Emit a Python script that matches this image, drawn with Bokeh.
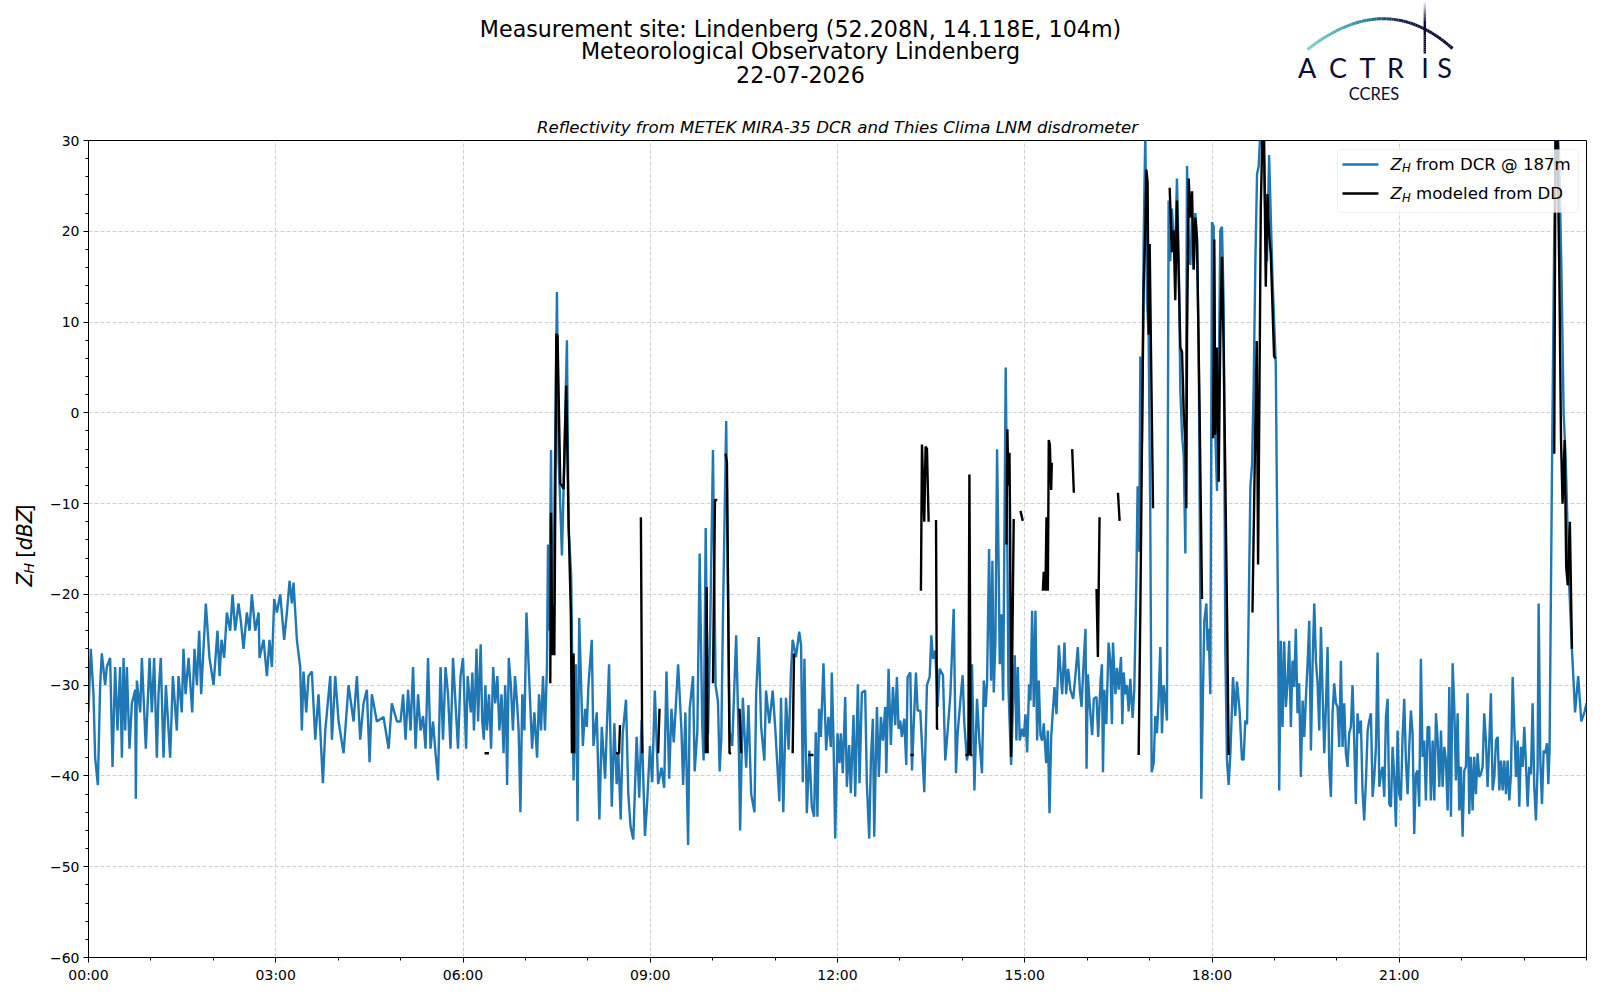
import numpy as np
from bokeh.plotting import figure
from bokeh.models import Range1d, FixedTicker, CustomJSTickFormatter, Label, BoxAnnotation
from bokeh.layouts import column, row
from bokeh.embed import file_html
from bokeh.resources import INLINE
from bokeh.core.properties import value

FONT = "DejaVu Sans"

title_lines = ["Measurement site: Lindenberg (52.208N, 14.118E, 104m)",
               "Meteorological Observatory Lindenberg",
               "22-07-2026"]
subtitle = "Reflectivity from METEK MIRA-35 DCR and Thies Clima LNM disdrometer"
legend_labels = ["from DCR @ 187m", "modeled from DD"]
x_tick_minutes = [0, 180, 360, 540, 720, 900, 1080, 1260]
x_tick_labels = ["00:00", "03:00", "06:00", "09:00", "12:00", "15:00", "18:00", "21:00"]
y_ticks = [-60, -50, -40, -30, -20, -10, 0, 10, 20, 30]

# ---- Z_H from DCR (minutes after midnight, dBZ) ----
dcr_night = [
    (0, -33), (2.2, -26), (4.8, -31), (6.4, -38), (9.0, -41), (11.2, -30), (12.8, -26.5), (16.0, -30),
    (17.6, -28), (20.8, -27), (23.1, -39), (25.6, -28), (27.9, -35), (30.4, -28), (32.1, -38), (33.7, -27),
    (35.3, -35), (36.9, -28), (39.4, -37), (41.7, -32), (44.9, -30.5), (45.5, -42.5), (46.5, -29.5), (49.7, -33),
    (51.3, -27), (55.1, -37), (58.7, -27), (60.9, -33), (63.1, -27), (65.7, -38), (67.3, -31), (69.5, -27),
    (72.1, -38), (74.4, -30), (78.5, -38), (81.1, -29), (84.9, -35), (86.5, -29), (89.7, -33), (91.3, -26),
    (93.3, -31), (96.2, -27), (99.7, -33), (101.9, -26), (104.2, -30), (106.4, -24), (108.3, -31), (112.8, -21),
    (116.3, -27), (120.2, -30), (124.0, -24), (126.0, -29), (127.9, -25), (130.4, -27), (133.0, -22), (136.2, -24),
    (138.5, -20), (141.0, -24), (144.2, -21), (146.5, -23), (149.0, -26), (152.2, -22), (154.8, -24), (157.0, -20),
    (160.3, -24), (163.5, -22), (164.4, -27), (168.3, -25), (171.5, -29), (174.0, -25), (176.3, -28), (178.5, -20.5),
    (181.1, -22), (184.3, -20), (188.1, -25), (190.7, -22), (193.3, -18.5), (195.5, -21), (197.1, -18.7), (200.3, -25),
    (203.5, -28), (205.1, -35), (206.7, -28.5), (209.3, -33), (211.5, -29), (214.7, -28.5), (218.0, -36), (221.1, -31),
    (225.3, -40.8), (227.6, -35), (232.4, -29), (234.0, -36), (237.2, -29), (240.4, -34), (245.2, -37.5), (250.0, -30),
    (254.8, -34), (258.0, -29), (261.2, -36), (264.4, -32), (267.6, -30.5), (270.2, -38.5), (272.4, -31), (277.2, -34),
    (283.6, -33.5), (288.5, -37), (291.6, -32), (296.5, -34),
]
dcr_morning = [
    (300.0, -34), (302.4, -31), (304.8, -36), (307.2, -30.5), (309.6, -35), (312.0, -28), (314.4, -37), (316.8, -31),
    (319.2, -35), (321.6, -33.4), (324.0, -37), (326.4, -27), (328.8, -37), (331.2, -34), (333.6, -37.5), (336.0, -40.5),
    (338.4, -28), (340.8, -36), (343.2, -28), (345.6, -31), (348.0, -37), (350.4, -27), (352.8, -32), (355.2, -37),
    (357.6, -29), (360, -27), (361.5, -32), (363, -37), (364.5, -29), (366, -31), (367.5, -33), (369, -28.6),
    (370.5, -35), (372, -30), (373, -26), (374.5, -34), (377, -25.5), (378.5, -34), (380, -36), (381.5, -30),
    (383, -35), (385, -31), (387, -37), (389, -28), (391, -32), (393, -29), (395, -35), (397, -31),
    (399, -37.5), (400.5, -30), (401.5, -33), (402.4, -41), (404, -27), (406, -30), (408, -35), (410, -29),
    (412, -32), (413.5, -35), (415.2, -44), (417, -31), (419, -35), (421, -22), (426.4, -37), (428.6, -33),
    (431.2, -38), (433.1, -31), (435, -35), (436.9, -29), (438.8, -35), (440.7, -28), (441.7, -14.5), (443, -24),
    (444.6, -4.1), (446.2, -26.5), (448.1, -8.6), (450.3, 13.3), (451.9, -5), (452.9, -8.2), (455.1, -15.7), (456.7, -8.4),
    (459.9, 8.0), (461.5, -12.7), (464, -18), (466.3, -40.5), (468.5, -27.7), (470.1, -45), (471.7, -22.6), (475.2, -36.7),
    (477.4, -32.6), (479, -34.6), (480.6, -30), (483.8, -25), (485.4, -36.7), (488.6, -33), (491.1, -44.8), (493.4, -34.6),
    (496.6, -40.3), (500.4, -27.7), (503, -43.4), (505.5, -34.2), (507.7, -40.9), (509.3, -37.5), (511.6, -44.8), (513.5, -35.4),
    (516.7, -31.6), (518.9, -42), (521.1, -45.6), (523.7, -47), (526.9, -35.7), (529.4, -42.4), (531.7, -33.8), (534.9, -46.6),
    (537.1, -42.8), (539.7, -36.7), (541.9, -40.7), (544.4, -30.6), (547.6, -40.9), (550.8, -39.1), (553.4, -41.3), (555.6, -28.5),
    (558.2, -40.3), (560.4, -32.6), (562.6, -36.3), (565.2, -31), (566.8, -27.7), (570, -35), (571.6, -41), (573.8, -33),
    (576.4, -47.6), (577.9, -32.6), (581.1, -29), (582.7, -39.5), (585.3, -35), (587.5, -15.5), (590, -34.6), (591.3, -38.3),
    (593.3, -12.7), (595.5, -35.4), (597.7, -23.3), (600.3, -4.1), (602.8, -30), (605.1, -31.8), (606.7, -39.5), (608.3, -35.9),
    (609.9, -22.4), (613, -0.9), (616.2, -35), (618.8, -36.7), (622.6, -24.5), (625.2, -37.1), (626.4, -46), (629, -31.4),
    (632.2, -39.1), (634.4, -32.2), (637, -42), (640.2, -44), (641.8, -31), (644.3, -24.7), (646.6, -34.6), (649.7, -38.3),
    (651.3, -30.6), (654.5, -34.2), (657.7, -30.6), (660.3, -35), (664.1, -42.8), (665.7, -31.4), (667.9, -44), (670.5, -31.4),
    (673, -37.1), (675.3, -28.5), (676.9, -25), (680.1, -26.9), (683.2, -24.1),
]
dcr_midday = [
    (685.0, -25.6), (686.6, -40.7), (688.2, -27.1), (690.5, -44.1), (693.0, -37.2), (695.3, -43.4), (697.5, -44.5), (699.1, -35.2),
    (700.7, -44.5), (702.3, -32.6), (704.0, -35.7), (706.5, -27.6), (709.1, -37.2), (711.3, -33.5), (713.6, -36.8), (714.5, -28.6),
    (716.1, -35.7), (717.8, -46.9), (720.0, -35.3), (721.9, -38.6), (723.2, -35.3), (725.1, -39.7), (727.4, -31.3), (729.0, -41.2),
    (731.2, -36.6), (732.8, -41.9), (735.4, -33.3), (737.0, -42.3), (739.6, -29.9), (741.2, -40.8), (743.4, -30.8), (746.6, -30.6),
    (748.2, -40.8), (750.5, -46.9), (752.1, -38.3), (754.0, -33.7), (755.3, -46.7), (757.9, -32.4), (759.8, -40.1), (761.7, -33.5),
    (763.6, -36.1), (765.9, -32.4), (766.9, -39.7), (769.1, -28.2), (771.3, -36.6), (773.3, -30.2), (775.5, -34.4), (777.1, -29.1),
    (778.7, -34.8), (780.3, -33.9), (781.9, -35.7), (784.2, -33.7), (786.1, -38.8), (787.4, -29.1), (790.0, -28.6), (791.6, -39.4),
    (793.2, -34.6), (795.4, -28.6), (797.0, -32.8), (799.6, -32.8), (803.4, -41.8), (806.0, -30.0), (808.6, -29.1), (810.2, -24.5),
    (811.8, -27.1), (814.0, -26.2), (816.3, -32.4), (818.2, -28.2), (821.4, -28.9), (823.6, -38.3), (826.2, -34.6), (828.5, -31.0),
    (831.7, -21.6), (833.9, -39.7), (835.5, -35.3), (838.1, -31.7), (840.3, -28.9), (841.9, -34.2), (844.5, -38.3), (847.1, -35.3),
    (849.3, -27.7), (851.6, -41.6), (854.1, -31.5), (856.4, -36.1), (858.9, -39.7), (860.6, -29.5), (862.5, -32.4), (863.8, -29.5),
    (865.7, -15.0), (867.6, -29.5), (868.9, -16.3), (870.2, -30.8), (871.8, -25.1), (873.4, -4.0), (875.0, -17.8), (876.0, -27.7),
    (877.6, -22.2), (879.2, -31.7), (881.7, 5.0), (883.0, -10.4), (884.3, -30.2), (886.9, -38.8), (888.8, -31.7), (890.4, -26.7),
    (892.0, -36.1), (893.3, -28.0), (895.2, -36.1), (897.5, -34.8), (899.1, -35.7), (900.7, -33.2), (902.3, -37.4), (904.2, -29.9),
    (905.5, -31.7), (907.1, -21.8), (908.7, -32.4), (910.3, -21.8), (911.9, -36.1), (913.5, -29.5), (915.1, -35.5), (916.7, -36.1),
    (918.3, -34.2), (920.6, -38.6), (922.2, -35.0), (923.8, -44.1), (925.4, -35.7), (927.3, -32.4), (928.6, -30.2), (930.5, -33.2),
    (932.8, -25.6), (934.4, -28.4), (936.0, -31.0), (938.2, -25.3), (939.8, -31.0), (941.7, -28.2), (944.0, -30.6), (946.6, -31.5),
    (948.8, -28.8), (951.0, -25.8), (953.0, -30.6), (954.6, -32.4), (956.2, -28.4), (958.4, -23.8), (959.4, -39.2), (960.7, -28.8),
    (962.6, -32.4), (964.8, -35.5), (966.4, -31.5), (969.0, -31.3), (970.6, -35.7), (972.9, -29.5),
]
dcr_afternoon = [
    (974.2, -27.7), (975.2, -39.6), (976.5, -30.5), (978.4, -34.3), (980.6, -25.3), (982.2, -27.2), (983.8, -34.3), (984.8, -25.3),
    (987.1, -31.0), (988.7, -28.1), (990.3, -30.5), (992.5, -26.9), (993.8, -34.3), (995.1, -28.6), (996.7, -31.0), (998.3, -30.0),
    (999.9, -32.9), (1001.5, -29.3), (1003.7, -33.6), (1005.3, -30.5), (1007.2, -19.1), (1008.5, -8.1), (1010.1, -15.3), (1011.1, 6.2),
    (1012.7, -3.3), (1014.3, 19.1), (1015.9, 31), (1017.5, 12.4), (1019.1, 8.6), (1020.7, -11.9), (1022.0, -39.6), (1023.9, -38.6),
    (1025.5, -33.4), (1027.1, -35.3), (1028.7, -31.5), (1030.3, -25.8), (1031.9, -35.3), (1033.5, -30.0), (1035.1, -31.5), (1036.7, -33.9),
    (1038.3, 23.4), (1039.9, 16.7), (1041.5, 22.5), (1043.1, 19.1), (1044.7, 17.7), (1046.3, 25.8), (1048.0, 16.7), (1049.6, 2.4),
    (1051.2, -2.4), (1052.8, -4.7), (1054.4, -15.5), (1056.0, 27.2), (1057.6, 19.1), (1059.2, 16.3), (1060.8, 21.5), (1062.4, 15.8),
    (1064.0, 22.0), (1065.6, 19.1), (1067.2, 7.2), (1068.8, -21.5), (1069.7, -42.5), (1071.3, -31.0), (1072.6, -22.9), (1074.6, -21.0),
    (1075.8, -26.2), (1076.8, -23.8), (1078.4, -31.0), (1080.0, 21.0), (1081.6, 20.5), (1083.2, -2.4), (1084.8, -8.6), (1086.4, 2.4),
    (1088.0, 20.1), (1089.6, 20.5), (1091.2, 12.0), (1092.8, -26.2), (1094.4, -38.2), (1096.0, -41.0), (1097.6, -37.7), (1100.2, -29.1),
    (1102.4, -33.4), (1104.0, -29.6), (1106.6, -32.9), (1108.8, -38.2), (1110.4, -38.2), (1112.0, -33.9), (1113.7, -34.3), (1115.3, -21.5),
    (1116.9, -8.1), (1118.5, -5.7), (1120.1, 3.4), (1121.7, 16.7), (1123.3, 26.3), (1124.9, 27.2), (1126.5, 31), (1128.1, 29.6),
    (1129.7, 29.6), (1131.3, 21.5), (1132.9, 16.7), (1134.9, 28.4), (1138.1, 15.0), (1141.3, 5.3), (1143.6, -24.3),
]
dcr_evening = [
    (1144.6, -41.6), (1146.2, -25.1), (1147.8, -34.6), (1149.4, -25.2), (1151.0, -32.4), (1152.6, -29.8), (1154.2, -25.1), (1155.8, -34.6),
    (1157.4, -27.3), (1159.0, -30.2), (1160.6, -23.8), (1162.2, -33.1), (1163.8, -29.8), (1165.4, -40.1), (1167.1, -31.7), (1168.7, -35.7),
    (1170.3, -31.3), (1171.9, -27.6), (1173.5, -22.9), (1175.1, -37.2), (1176.7, -27.6), (1178.3, -21.0), (1179.9, -27.3), (1181.5, -29.8),
    (1183.1, -35.0), (1184.7, -23.6), (1186.3, -30.9), (1187.9, -37.5), (1189.5, -32.4), (1191.1, -25.8), (1192.7, -39.0), (1194.3, -42.3),
    (1195.9, -33.1), (1197.5, -29.8), (1199.1, -32.0), (1200.7, -32.4), (1202.3, -36.8), (1203.9, -27.3), (1205.5, -36.8), (1207.1, -32.0),
    (1208.7, -37.5), (1210.3, -39.0), (1211.9, -35.3), (1213.5, -34.6), (1215.1, -30.0), (1216.7, -36.1), (1218.3, -43.1), (1219.9, -33.1),
    (1221.5, -35.3), (1223.1, -33.9), (1224.7, -41.6), (1226.3, -44.9), (1228.0, -40.5), (1229.6, -35.0), (1231.2, -33.9), (1232.8, -33.1),
    (1234.4, -42.3), (1236.0, -40.1), (1237.6, -36.8), (1239.2, -26.4), (1240.8, -41.2), (1242.4, -39.8), (1244.0, -39.0), (1245.6, -42.3),
    (1247.2, -33.5), (1248.8, -31.5), (1250.4, -43.1), (1252.0, -43.4), (1253.6, -36.8), (1255.2, -40.1), (1256.8, -45.6), (1258.4, -35.0),
    (1260.0, -42.0), (1261.6, -42.7), (1263.2, -35.7), (1264.8, -31.5), (1266.4, -38.3), (1268.0, -42.0), (1269.6, -36.8), (1271.2, -32.8),
    (1272.8, -35.3), (1274.4, -46.4), (1276.0, -39.8), (1277.6, -39.4), (1279.2, -43.4), (1280.8, -27.1), (1282.4, -37.9), (1284.0, -36.1),
    (1285.6, -42.7), (1287.2, -34.6), (1288.8, -34.6), (1290.4, -42.7), (1292.1, -36.1), (1293.7, -42.7), (1295.3, -33.1), (1296.9, -36.1),
    (1298.5, -41.2), (1300.1, -35.0), (1301.7, -41.2), (1303.3, -36.8), (1304.9, -38.3), (1306.5, -43.8), (1308.1, -30.2), (1309.7, -44.5),
    (1311.3, -27.6), (1312.9, -32.4), (1314.5, -40.5), (1316.1, -33.1), (1317.7, -43.8), (1319.3, -39.0), (1320.9, -46.7), (1322.5, -39.4),
    (1324.1, -39.0), (1325.7, -30.9), (1327.3, -44.2), (1328.9, -37.9), (1330.5, -43.8), (1332.1, -37.9), (1333.7, -42.0), (1335.3, -37.5),
    (1336.9, -40.1), (1338.5, -39.8), (1340.1, -39.0), (1341.7, -33.1), (1343.3, -36.1), (1344.9, -41.2), (1346.5, -36.4), (1348.1, -30.9),
    (1349.8, -41.6), (1351.4, -40.1), (1353.0, -36.1), (1354.6, -35.7), (1356.2, -41.6), (1357.8, -38.3), (1359.4, -41.6), (1361.0, -38.3),
    (1362.6, -42.0), (1364.2, -38.3), (1365.8, -42.7), (1367.4, -39.8), (1369.0, -29.1), (1370.6, -34.6), (1372.2, -40.1), (1373.8, -36.1),
    (1375.4, -43.4), (1377.0, -36.8), (1378.6, -39.0), (1380.2, -34.6), (1381.8, -38.7), (1383.4, -43.4), (1385.0, -39.0), (1386.6, -39.8),
    (1388.2, -32.0), (1389.8, -41.2), (1391.4, -44.9), (1393.0, -39.0), (1394.0, -21.0), (1395.6, -38.3), (1397.2, -43.1), (1398.8, -37.2),
    (1400.4, -37.5), (1402.0, -36.4), (1403.3, -40.9), (1404.5, -37.0), (1407.0, -4.0), (1409.0, 20.0), (1410.6, 31), (1412.2, 31),
    (1413.8, 28.0), (1416.0, 15.0), (1418.0, 0.0), (1420.0, -5.0), (1423.0, -18.0), (1426.0, -26.0), (1429.0, -33.0), (1432.0, -29.0),
    (1435.0, -34.0), (1438.0, -33.0), (1440.0, -32.0),
]

# ---- Z_H modeled from disdrometer (separate rain episodes) ----
dd_episodes = [
    [(380.7, -37.5), (384.9, -37.5)],
    [(443.9, -29.8), (444.6, -11), (445.8, -26.7), (446.5, -21.2), (447.8, -26.7), (449.7, 8.7), (450.9, 8.5), (453.5, -7.8),
     (455.1, -8), (456.7, -8.4), (459.2, 3), (461.5, -12), (463.7, -22.2), (464.7, -37.5), (466.3, -26.5), (466.9, -37.5)],
    [(507.1, -37.5), (510, -37.5), (510.9, -34.4)],
    [(531, -11.5), (532.3, -37.5)],
    [(547.6, -37.5), (548.9, -32.6)],
    [(593.3, -37.5), (594.2, -19.2), (595.2, -37.5)],
    [(600.3, -29.8), (602.2, -9.6), (604.4, -9.6)],
    [(612.4, -4.5), (613.7, -5.5), (616.2, -37.5), (617.8, -37.5)],
    [(625.8, -32.6), (627.4, -37.5)],
    [(676.9, -37.5), (678.2, -26.5)],
    [(692.1, -37.7), (696.9, -37.7)],
    [(790, -37.7), (793.2, -37.7)],
    [(800.2, -19.6), (801.2, -3.5), (803.4, -12), (804.7, -3.7), (806, -4), (807.6, -12)],
    [(814.7, -11.8), (815.6, -34.8), (816.9, -34.8)],
    [(842.9, -37.7), (845.8, -37.7), (846.8, -6.8), (848, -37.7), (849.6, -37.7)],
    [(882.4, -14.5), (883.3, -1.8), (884.3, -8), (885.3, -4.4), (885.9, -12), (886.9, -37.9), (889.4, -11.7)],
    [(895.9, -10.8), (898.1, -11.9)],
    [(917.4, -19.6), (918.3, -17.5), (919.9, -19.6), (920.9, -11.5), (922.2, -19.6), (923.1, -3), (924.1, -3.5), (925.4, -8.5),
     (926, -5.5)],
    [(945.6, -4), (947.2, -8.8)],
    [(969, -19.4), (970.3, -26.9), (971.9, -11.5)],
    [(989.6, -8.8), (991.2, -11.9)],
    [(1009.5, -37.7), (1011.1, -22), (1012.7, -3.3), (1014.3, 14), (1015.9, 20), (1016.9, 26.8), (1018.1, 25.4), (1019.1, 8.6),
     (1020.1, 18.6), (1021.3, 7.2), (1023.3, -10.5)],
    [(1039.3, 24.8), (1041.5, 17.7), (1043.1, 20.1), (1044.7, 12.4), (1046.3, 23.4), (1048, 15.3), (1049.6, 7.2), (1051.2, 6.7),
     (1052.8, 0), (1054.4, -3.3), (1055.3, -10.5), (1056, 8.1), (1057.6, 25.8), (1059.2, 21.5), (1060.8, 24.4), (1062.4, 15.8),
     (1064, 21.5), (1065.6, 19.1), (1068.1, 0), (1070.4, -20.5)],
    [(1081, -2.8), (1082.2, 19.1), (1083.2, -2.4), (1084.8, 7.2), (1086.4, -7.6), (1088, 8.6), (1089.6, 17.2), (1091.2, 7.2),
     (1092.8, -7.1), (1094.4, -21.5), (1096, -37.7)],
    [(1118.9, -22), (1120.5, -10), (1122.1, 2.3), (1123, 7.9), (1124.3, -16.7), (1125.6, 2), (1126.9, 22.5), (1128.5, 31),
     (1130.1, 30), (1131.7, 13.9), (1133.3, 24.1), (1134.9, 19.7), (1136.5, 17.5), (1139.7, 6.2), (1141.3, 6)],
    [(1409, -4.5), (1410.2, 31), (1412, 31), (1414, 14), (1415.5, -3), (1417, -10), (1419, -3), (1420.5, -17),
     (1422, -19), (1424, -12), (1426, -26)],
]

# ---------------- assemble ----------------
dcr_pairs = dcr_night + dcr_morning + dcr_midday + dcr_afternoon + dcr_evening
dcr_t = np.array([p[0] for p in dcr_pairs], dtype=float)
dcr_z = np.array([p[1] for p in dcr_pairs], dtype=float)

dd_t_list, dd_z_list = [], []
for ep in dd_episodes:
    dd_t_list += [p[0] for p in ep] + [np.nan]
    dd_z_list += [p[1] for p in ep] + [np.nan]
dd_t = np.array(dd_t_list, dtype=float)
dd_z = np.array(dd_z_list, dtype=float)

BLUE = "#1f77b4"
NAVY = "#0c0c30"
W = 1600
H = 1000
HEAD_H = 108
MAIN_H = H - HEAD_H
YL_W = 38

# ---------------- header (titles + logo), page pixel coordinates ----------------
header = figure(width=W, height=HEAD_H, x_range=Range1d(0, W), y_range=Range1d(HEAD_H, 0),
                output_backend="svg", toolbar_location=None, x_axis_location=None, y_axis_location=None,
                min_border=0)
header.grid.visible = False
header.outline_line_color = None

header.text(x=[800, 800, 800], y=[28, 50.5, 73.5], text=title_lines, text_font=value(FONT),
            text_font_size=value("22.2px"), text_align="center", text_baseline="middle", text_color="black")

# logo arc with colour gradient
tt = np.linspace(0, 1, 60)
P0, P1, P2 = (1307, 49), (1385, -12), (1452, 48)
bx = (1 - tt) ** 2 * P0[0] + 2 * (1 - tt) * tt * P1[0] + tt ** 2 * P2[0]
by = (1 - tt) ** 2 * P0[1] + 2 * (1 - tt) * tt * P1[1] + tt ** 2 * P2[1]
stops = [(0.0, (130, 208, 202)), (0.35, (45, 140, 160)), (0.62, (20, 30, 70)), (1.0, (12, 12, 48))]
def grad(f):
    for (f0, c0), (f1, c1) in zip(stops[:-1], stops[1:]):
        if f <= f1:
            k = (f - f0) / (f1 - f0)
            return "#%02x%02x%02x" % tuple(int(c0[i] + k * (c1[i] - c0[i])) for i in range(3))
    return "#%02x%02x%02x" % stops[-1][1]
header.multi_line(xs=[[bx[i], bx[i + 1]] for i in range(len(tt) - 1)],
                  ys=[[by[i], by[i + 1]] for i in range(len(tt) - 1)],
                  line_color=[grad(tt[i]) for i in range(len(tt) - 1)], line_width=3)
vy = np.linspace(2, 53, 26)
header.multi_line(xs=[[1424.3, 1424.3] for i in range(len(vy) - 1)],
                  ys=[[vy[i], vy[i + 1]] for i in range(len(vy) - 1)],
                  line_color=NAVY, line_alpha=[min(1.0, 0.1 + i / 10) for i in range(len(vy) - 1)],
                  line_width=2.4)
header.text(x=[1306.7, 1337.5, 1367, 1395, 1424.5, 1444], y=[66.7] * 6, text=list("ACTRIS"),
            text_font=value("Lato"), text_font_size=value("27px"), text_align="center",
            text_baseline="middle", text_color=NAVY)
header.text(x=[1373.5], y=[93], text=["CCRES"], text_font=value("Lato"), text_font_size=value("16.5px"),
            text_align="center", text_baseline="middle", text_color=NAVY)

# ---------------- y-axis label panel (page pixel coordinates) ----------------
ylab = figure(width=YL_W, height=MAIN_H, x_range=Range1d(0, YL_W), y_range=Range1d(H, HEAD_H),
              output_backend="svg", toolbar_location=None, x_axis_location=None, y_axis_location=None, min_border=0)
ylab.grid.visible = False
ylab.outline_line_color = None
fs = 20.6
y0 = 595.0
pieces = [("Z", "italic", fs, 0.685 * fs, 0.0),
          ("H", "italic", fs * 0.7, 0.752 * fs * 0.7 + 0.318 * fs, 4.0),
          ("[", "normal", fs, 0.39 * fs, 0.0),
          ("dBZ", "italic", fs, 2.006 * fs, 0.0),
          ("]", "normal", fs, 0.39 * fs, 0.0)]
cur = y0
for txt, style, size, adv, dx in pieces:
    ylab.text(x=[24.5 + dx], y=[cur], text=[txt], text_font=value(FONT), text_font_style=style,
              text_font_size=value("%.1fpx" % size), text_align="left", text_baseline="middle",
              angle=np.pi / 2, text_color="black")
    cur -= adv

# ---------------- main plot ----------------
main = figure(width=W - YL_W, height=MAIN_H, x_range=Range1d(0, 1440), y_range=Range1d(-60, 30),
              output_backend="svg", toolbar_location=None, title=subtitle,
              min_border_left=50, min_border_right=14, min_border_top=140 - HEAD_H, min_border_bottom=43)
main.title.align = "center"
main.title.text_font = FONT
main.title.text_font_style = "italic"
main.title.text_font_size = "16.6px"
main.title.text_color = "black"
main.title.standoff = 7
main.outline_line_color = "black"
main.outline_line_width = 1
main.outline_line_alpha = 1

main.xaxis.ticker = FixedTicker(ticks=x_tick_minutes, minor_ticks=list(range(0, 1441, 60)))
main.xaxis.formatter = CustomJSTickFormatter(args=dict(tick_pos=x_tick_minutes, tick_txt=x_tick_labels),
                                             code="const i = tick_pos.indexOf(Math.round(tick)); return i >= 0 ? tick_txt[i] : '';")
main.yaxis.ticker = FixedTicker(ticks=y_ticks, minor_ticks=list(range(-60, 31, 2)))
main.yaxis.formatter = CustomJSTickFormatter(code="return tick < 0 ? '\\u2212' + Math.abs(tick) : String(tick);")
for ax in (main.xaxis[0], main.yaxis[0]):
    ax.major_label_text_font = FONT
    ax.major_label_text_font_size = "14px"
    ax.major_label_text_color = "black"
    ax.axis_line_color = "black"
    ax.major_tick_line_color = "black"
    ax.minor_tick_line_color = "black"
    ax.major_tick_out = 5
    ax.major_tick_in = 0
    ax.minor_tick_out = 3
    ax.minor_tick_in = 0
    ax.major_label_standoff = 4
main.xgrid.ticker = FixedTicker(ticks=x_tick_minutes)
main.ygrid.ticker = FixedTicker(ticks=y_ticks)
for g in (main.xgrid[0], main.ygrid[0]):
    g.grid_line_color = "#d0d0d0"
    g.grid_line_dash = "4 2"
    g.grid_line_width = 1

main.line(dcr_t, dcr_z, line_color=BLUE, line_width=2.4)
main.line(dd_t, dd_z, line_color="black", line_width=2.4)

# legend (drawn by hand so that Z_H can carry its subscript)
main.add_layout(BoxAnnotation(left=1200.6, right=1432.3, bottom=22.07, top=29.0, fill_color="white",
                              fill_alpha=0.8, line_color="#cccccc", line_width=1, border_radius=4))
for yy, col, lab in ((27.36, BLUE, legend_labels[0]), (24.16, "black", legend_labels[1])):
    main.line([1205.4, 1240.0], [yy, yy], line_color=col, line_width=2.4, level="overlay")
    main.add_layout(Label(x=1251.6, y=yy, text="Z", text_font=FONT, text_font_style="italic",
                          text_font_size="16.6px", text_baseline="middle", text_color="black"))
    main.add_layout(Label(x=1262.6, y=yy - 0.44, text="H", text_font=FONT, text_font_style="italic",
                          text_font_size="11.6px", text_baseline="middle", text_color="black"))
    main.add_layout(Label(x=1276.1, y=yy, text=lab, text_font=FONT,
                          text_font_size="16.6px", text_baseline="middle", text_color="black"))

layout = column(header, row(ylab, main))
open("out.html", "w").write(file_html(layout, INLINE))
